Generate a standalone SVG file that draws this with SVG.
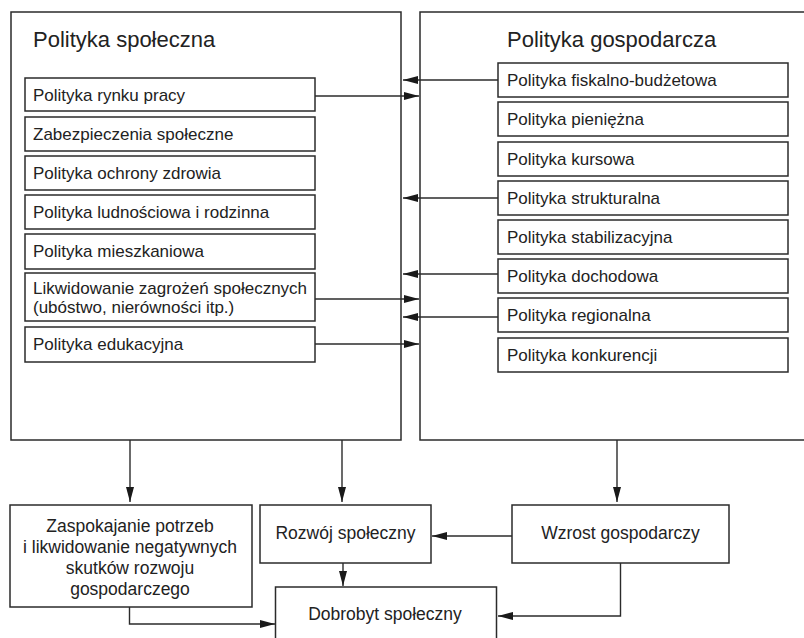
<svg xmlns="http://www.w3.org/2000/svg" width="804" height="638" viewBox="0 0 804 638">
<defs>
<style>
.box{fill:#fff;stroke:#2b2b2b;stroke-width:1.5}
.ln{fill:none;stroke:#2b2b2b;stroke-width:1.4}
text{font-family:"Liberation Sans",Arial,sans-serif;fill:#222;font-size:17px}
.title{font-size:22px}
.c{text-anchor:middle;font-size:17.5px}
</style>
<marker id="ah" markerUnits="userSpaceOnUse" markerWidth="15" markerHeight="9" refX="15" refY="4.5" orient="auto">
<path d="M0,0.5 L15,4.5 L0,8.5 z" fill="#1a1a1a"/>
</marker>
</defs>
<rect width="804" height="638" fill="#fff"/>

<g id="polityka-spoleczna">
<rect class="box" x="11" y="12" width="390" height="428"/>
<text class="title" x="33" y="47">Polityka społeczna</text>
</g>
<g id="polityka-gospodarcza">
<rect class="box" x="420" y="12" width="400" height="428"/>
<text class="title" x="507" y="47">Polityka gospodarcza</text>
</g>

<g id="s1"><rect class="box" x="25" y="78" width="290" height="33"/><text x="33" y="101">Polityka rynku pracy</text></g>
<g id="s2"><rect class="box" x="25" y="117" width="290" height="34"/><text x="33" y="140">Zabezpieczenia społeczne</text></g>
<g id="s3"><rect class="box" x="25" y="156" width="290" height="34"/><text x="33" y="179">Polityka ochrony zdrowia</text></g>
<g id="s4"><rect class="box" x="25" y="195" width="290" height="34"/><text x="33" y="218">Polityka ludnościowa i rodzinna</text></g>
<g id="s5"><rect class="box" x="25" y="234" width="290" height="35"/><text x="33" y="257">Polityka mieszkaniowa</text></g>
<g id="s6"><rect class="box" x="25" y="273" width="290" height="48"/><text x="33" y="294">Likwidowanie zagrożeń społecznych</text><text x="33" y="313">(ubóstwo, nierówności itp.)</text></g>
<g id="s7"><rect class="box" x="25" y="327" width="290" height="35"/><text x="33" y="350">Polityka edukacyjna</text></g>

<g id="g1"><rect class="box" x="498" y="63" width="290" height="34"/><text x="507" y="86">Polityka fiskalno-budżetowa</text></g>
<g id="g2"><rect class="box" x="498" y="102" width="290" height="34"/><text x="507" y="125">Polityka pieniężna</text></g>
<g id="g3"><rect class="box" x="498" y="142" width="290" height="34"/><text x="507" y="165">Polityka kursowa</text></g>
<g id="g4"><rect class="box" x="498" y="181" width="290" height="34"/><text x="507" y="204">Polityka strukturalna</text></g>
<g id="g5"><rect class="box" x="498" y="220" width="290" height="34"/><text x="507" y="243">Polityka stabilizacyjna</text></g>
<g id="g6"><rect class="box" x="498" y="259" width="290" height="34"/><text x="507" y="282">Polityka dochodowa</text></g>
<g id="g7"><rect class="box" x="498" y="298" width="290" height="34"/><text x="507" y="321">Polityka regionalna</text></g>
<g id="g8"><rect class="box" x="498" y="338" width="290" height="34"/><text x="507" y="361">Polityka konkurencji</text></g>

<g id="zaspokajanie"><rect class="box" x="10" y="505" width="242" height="102"/>
<text class="c" x="130" y="532">Zaspokajanie potrzeb</text>
<text class="c" x="130" y="553">i likwidowanie negatywnych</text>
<text class="c" x="130" y="574">skutków rozwoju</text>
<text class="c" x="130" y="595">gospodarczego</text></g>
<g id="rozwoj"><rect class="box" x="260" y="505" width="171" height="58"/><text class="c" x="345.5" y="539">Rozwój społeczny</text></g>
<g id="wzrost"><rect class="box" x="512" y="505" width="217" height="58"/><text class="c" x="620.5" y="539">Wzrost gospodarczy</text></g>
<g id="dobrobyt"><rect class="box" x="275.5" y="587" width="221" height="60"/><text class="c" x="385" y="620">Dobrobyt społeczny</text></g>

<g id="connectors">
<line class="ln" x1="498" y1="80" x2="403" y2="80" marker-end="url(#ah)"/>
<line class="ln" x1="315" y1="96" x2="419" y2="96" marker-end="url(#ah)"/>
<line class="ln" x1="498" y1="198" x2="403" y2="198" marker-end="url(#ah)"/>
<line class="ln" x1="498" y1="274" x2="403" y2="274" marker-end="url(#ah)"/>
<line class="ln" x1="315" y1="299" x2="419" y2="299" marker-end="url(#ah)"/>
<line class="ln" x1="498" y1="317" x2="403" y2="317" marker-end="url(#ah)"/>
<line class="ln" x1="315" y1="344" x2="419" y2="344" marker-end="url(#ah)"/>
<line class="ln" x1="130" y1="440" x2="130" y2="502" marker-end="url(#ah)"/>
<line class="ln" x1="342" y1="440" x2="342" y2="502" marker-end="url(#ah)"/>
<line class="ln" x1="617" y1="440" x2="617" y2="502" marker-end="url(#ah)"/>
<line class="ln" x1="512" y1="536" x2="432" y2="536" marker-end="url(#ah)"/>
<line class="ln" x1="343" y1="563" x2="343" y2="586" marker-end="url(#ah)"/>
<polyline class="ln" points="129.5,607 129.5,624 275,624" marker-end="url(#ah)"/>
<polyline class="ln" points="620.5,563 620.5,616 498,616" marker-end="url(#ah)"/>
</g>
</svg>
